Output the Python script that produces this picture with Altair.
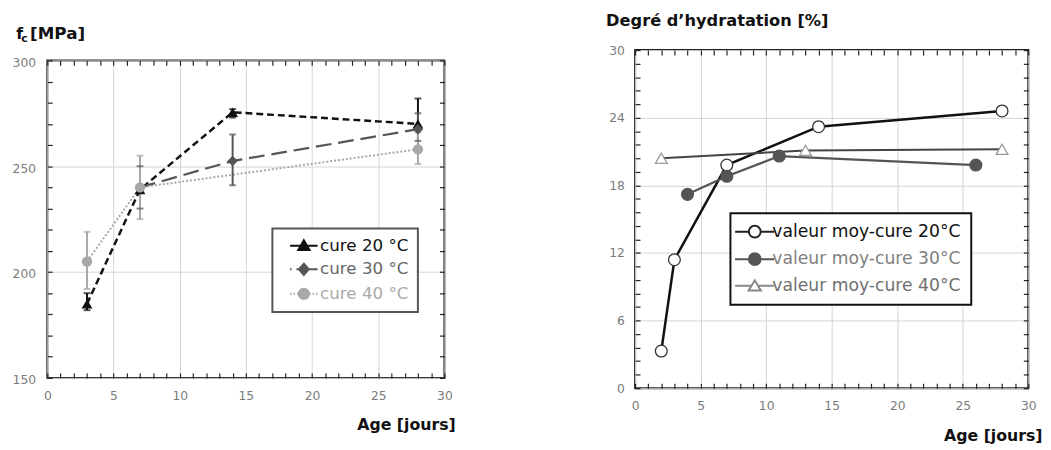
import altair as alt
import pandas as pd

# ---------------- data: left panel (compressive strength) ----------------
series_left = ["cure 20 °C", "cure 30 °C", "cure 40 °C"]
age20 = [3, 7, 14, 28]
fc20 = [185, 239, 275.5, 270]
age30 = [7, 14, 28]
fc30 = [240, 252.5, 267.5]
age40 = [3, 7, 28]
fc40 = [205, 240, 258]

err_age20 = [3, 14, 28]
err_lo20 = [182, 273, 259]
err_hi20 = [190, 277, 282]
err_age30 = [7, 14, 28]
err_lo30 = [230, 241, 262]
err_hi30 = [250, 265, 275]
err_age40 = [3, 7, 28]
err_lo40 = [192, 225, 251]
err_hi40 = [219, 255, 266]

# ---------------- data: right panel (degree of hydration) ----------------
series_right = ["valeur moy-cure 20°C", "valeur moy-cure 30°C", "valeur moy-cure 40°C"]
h_age20 = [2, 3, 7, 14, 28]
hyd20 = [3.3, 11.4, 19.8, 23.2, 24.6]
h_age30 = [4, 7, 11, 26]
hyd30 = [17.2, 18.8, 20.6, 19.8]
h_age40 = [2, 13, 28]
hyd40 = [20.4, 21.1, 21.2]

x_ticks = [0, 5, 10, 15, 20, 25, 30]
x_minor = list(range(0, 31))
fc_ticks = [150, 200, 250, 300]
fc_minor = list(range(150, 301, 10))
hyd_ticks = [0, 6, 12, 18, 24, 30]
hyd_minor = [round(i * 1.2, 1) for i in range(26)]

FONT = "DejaVu Sans"
GRID = "#d4d4d4"
TICK = "#222222"
LABEL = "#7a7a7a"

dl = pd.concat([
    pd.DataFrame({"age": age20, "fc": fc20, "series": series_left[0]}),
    pd.DataFrame({"age": age30, "fc": fc30, "series": series_left[1]}),
    pd.DataFrame({"age": age40, "fc": fc40, "series": series_left[2]}),
])
de = pd.concat([
    pd.DataFrame({"age": err_age20, "lo": err_lo20, "hi": err_hi20, "series": series_left[0]}),
    pd.DataFrame({"age": err_age30, "lo": err_lo30, "hi": err_hi30, "series": series_left[1]}),
    pd.DataFrame({"age": err_age40, "lo": err_lo40, "hi": err_hi40, "series": series_left[2]}),
])
dr = pd.concat([
    pd.DataFrame({"age": h_age20, "hyd": hyd20, "series": series_right[0]}),
    pd.DataFrame({"age": h_age30, "hyd": hyd30, "series": series_right[1]}),
    pd.DataFrame({"age": h_age40, "hyd": hyd40, "series": series_right[2]}),
])


def pick(series, vals):
    e = f"'{vals[-1]}'"
    for s, v in reversed(list(zip(series[:-1], vals[:-1]))):
        e = f"datum.value === '{s}' ? '{v}' : ({e})"
    return alt.ExprRef(expr=e)


def minor_axis(orient, values):
    return alt.Axis(orient=orient, values=values, offset=-5, tickSize=5, tickColor=TICK,
                    tickWidth=1.2, labels=False, domain=False, grid=False, title=None)


def none_axis(orient, title=None, **kw):
    return alt.Axis(orient=orient, labels=False, ticks=False, domain=False, grid=False,
                    title=title, **kw)


title_style = dict(titleFont=FONT, titleFontWeight="bold", titleColor="#111111",
                   titleAngle=0, titleAlign="left", titleBaseline="alphabetic")


def label_axis_x(tx, ty):
    return alt.Axis(orient="bottom", values=x_ticks, grid=True, gridColor=GRID, gridWidth=1,
                    ticks=False, domain=False, labelFont=FONT, labelFontSize=12.5,
                    labelColor=LABEL, labelPadding=12, labelFlush=False,
                    title="Age [jours]", titleX=tx, titleY=ty, titleFontSize=16,
                    titleFont=FONT, titleFontWeight="bold", titleColor="#111111",
                    titleAlign="right", titleBaseline="alphabetic")


# ---------------- left panel ----------------
LW, LH = 404, 323
xs_l = alt.Scale(domain=[0, 30], nice=False, zero=False)
ys_l = alt.Scale(domain=[150, 300], nice=False, zero=False)
col_l = ["#111111", "#555555", "#a8a8a8"]

# only the legend channel (fill) gets an explicit domain; the other nominal scales
# use the (alphabetically sorted) data domain so their hidden legends stay separate
stroke_l = alt.Stroke("series:N", scale=alt.Scale(range=col_l), legend=None)

lines_l = alt.Chart(dl).mark_line().encode(
    x=alt.X("age:Q", scale=xs_l, axis=label_axis_x(LW + 11, 53)),
    y=alt.Y("fc:Q", scale=ys_l, axis=alt.Axis(
        orient="left", values=fc_ticks, grid=True, gridColor=GRID, ticks=False, domain=False,
        labelFont=FONT, labelFontSize=12.5, labelColor=LABEL, labelPadding=12, labelOffset=2,
        title="f", titleX=-32, titleY=-22, titleFontSize=16, **title_style)),
    stroke=stroke_l,
    strokeDash=alt.StrokeDash("series:N", scale=alt.Scale(range=[[7, 4], [16, 7], [2, 2]]),
                              legend=None),
    strokeWidth=alt.StrokeWidth("series:N", scale=alt.Scale(range=[2.5, 2, 1.5]), legend=None),
)

rules_l = alt.Chart(de).mark_rule(strokeWidth=2).encode(
    x=alt.X("age:Q", scale=xs_l, axis=minor_axis("bottom", x_minor)),
    y=alt.Y("lo:Q", scale=ys_l, axis=alt.Axis(
        orient="left", values=fc_minor, offset=-5, tickSize=5, tickColor=TICK, tickWidth=1.2,
        labels=False, domain=False, grid=False,
        title="c", titleX=-32, titleY=-19, titleFontSize=11, **title_style)),
    y2="hi:Q",
    stroke=stroke_l,
)

caps_l = alt.Chart(de).transform_fold(["lo", "hi"], as_=["end", "val"]).mark_tick(
    orient="horizontal", size=7, thickness=2).encode(
    x=alt.X("age:Q", scale=xs_l, axis=minor_axis("top", x_minor)),
    y=alt.Y("val:Q", scale=ys_l, axis=minor_axis("right", fc_minor)),
    color=alt.Color("series:N", scale=alt.Scale(range=col_l), legend=None),
)

paths_l = [
    "M-2.8,0H2.8M0,-1.1L1.15,0.9L-1.15,0.9Z",
    "M-2.8,0H-2.5M-1.5,0H2.8M0,-1.15L1.0,0L0,1.15L-1.0,0Z",
    "M-2.8,0H-2.5M-2.1,0H-1.8M1.8,0H2.1M2.5,0H2.8"
    "M-1.4,0H-1.1M1.1,0H1.4M1.05,0A1.05,1.05 0 1,1 -1.05,0A1.05,1.05 0 1,1 1.05,0Z",
]
legend_l = alt.Legend(
    orient="none", legendX=229, legendY=171, title=None, padding=9,
    fillColor="white", strokeColor="#555555",
    labelFont=FONT, labelFontSize=17, labelLimit=400,
    symbolSize=100, symbolStrokeWidth=2, symbolOffset=14.5, labelOffset=8, rowPadding=5,
    symbolType=pick(series_left, paths_l),
    symbolStrokeColor=pick(series_left, col_l),
    labelColor=pick(series_left, ["#111111", "#666666", "#aaaaaa"]),
)

points_l = alt.Chart(dl).mark_point(filled=True, opacity=1).encode(
    x=alt.X("age:Q", scale=xs_l, axis=None),
    y=alt.Y("fc:Q", scale=ys_l, axis=none_axis(
        "left", title="[MPa]", titleX=-18, titleY=-22, titleFontSize=17, **title_style)),
    fill=alt.Fill("series:N", scale=alt.Scale(domain=series_left, range=col_l), legend=legend_l),
    shape=alt.Shape("series:N", scale=alt.Scale(range=["triangle-up", "diamond", "circle"]),
                    legend=None),
    size=alt.Size("series:N", scale=alt.Scale(range=[120, 110, 130]), legend=None),
)

left = alt.layer(lines_l, rules_l, caps_l, points_l).resolve_axis(
    x="independent", y="independent").properties(width=LW, height=LH)

# ---------------- right panel ----------------
RW, RH = 400, 344
xs_r = alt.Scale(domain=[0, 30], nice=False, zero=False)
ys_r = alt.Scale(domain=[0, 30], nice=False, zero=False)
line_col_r = ["#111111", "#555555", "#444444"]
fill_r = ["#ffffff", "#555555", "#ffffff"]
mstroke_r = ["#333333", "#555555", "#999999"]

lines_r = alt.Chart(dr).mark_line().encode(
    x=alt.X("age:Q", scale=xs_r, axis=label_axis_x(RW + 14, 53)),
    y=alt.Y("hyd:Q", scale=ys_r, axis=alt.Axis(
        orient="left", values=hyd_ticks, grid=True, gridColor=GRID, ticks=False, domain=False,
        labelFont=FONT, labelFontSize=12.5, labelColor=LABEL, labelPadding=11,
        title="Degré d’hydratation [%]", titleX=-30, titleY=-25, titleFontSize=16.5,
        **title_style)),
    stroke=alt.Stroke("series:N", scale=alt.Scale(range=line_col_r), legend=None),
    strokeWidth=alt.StrokeWidth("series:N", scale=alt.Scale(range=[2.5, 2, 1.3]), legend=None),
)

paths_r = [
    "M-4,0H-1.2M1.2,0H4M1.2,0A1.2,1.2 0 1,1 -1.2,0A1.2,1.2 0 1,1 1.2,0Z",
    "M-4,0H-1.2M1.2,0H4M1.2,0A1.2,1.2 0 1,1 -1.2,0A1.2,1.2 0 1,1 1.2,0Z",
    "M-4,0H-0.7M0.7,0H4M0,-1.1L1.25,0.95L-1.25,0.95Z",
]
legend_r = alt.Legend(
    orient="none", legendX=97, legendY=166, title=None, padding=10,
    fillColor="white", strokeColor="#111111",
    labelFont=FONT, labelFontSize=17.5, labelLimit=400,
    symbolSize=100, symbolStrokeWidth=2, symbolOffset=6, labelOffset=9, rowPadding=7,
    symbolType=pick(series_right, paths_r),
    symbolStrokeColor=pick(series_right, ["#222222", "#555555", "#888888"]),
    labelColor=pick(series_right, ["#111111", "#808080", "#707070"]),
)

points_r = alt.Chart(dr).mark_point(opacity=1, strokeWidth=1.3).encode(
    x=alt.X("age:Q", scale=xs_r, axis=minor_axis("bottom", x_minor)),
    y=alt.Y("hyd:Q", scale=ys_r, axis=minor_axis("left", hyd_minor)),
    fill=alt.Fill("series:N", scale=alt.Scale(domain=series_right, range=fill_r),
                  legend=legend_r),
    stroke=alt.Stroke("series:N", scale=alt.Scale(range=mstroke_r), legend=None),
    shape=alt.Shape("series:N", scale=alt.Scale(range=["circle", "circle", "triangle-up"]),
                    legend=None),
    size=alt.Size("series:N", scale=alt.Scale(range=[144, 144, 130]), legend=None),
)

ticks_r = alt.Chart(dr).mark_point(opacity=0).encode(
    x=alt.X("age:Q", scale=xs_r, axis=minor_axis("top", x_minor)),
    y=alt.Y("hyd:Q", scale=ys_r, axis=minor_axis("right", hyd_minor)),
)

right = alt.layer(lines_r, points_r, ticks_r).resolve_axis(
    x="independent", y="independent").resolve_scale(stroke="independent").properties(
    width=RW, height=RH)

# ---------------- layout ----------------
chart = alt.hconcat(left, right, spacing=194, bounds="flush", center=True).resolve_scale(
    x="independent", y="independent", fill="independent", stroke="independent",
    shape="independent", size="independent", strokeWidth="independent",
    strokeDash="independent", color="independent",
).properties(
    padding={"left": 3, "top": 0, "right": 0, "bottom": 0}
).configure(font=FONT).configure_view(stroke="#222222", strokeWidth=2).configure_legend(
    strokeWidth=2)

chart.save("out.html", embed_options={"renderer": "svg", "actions": False})
